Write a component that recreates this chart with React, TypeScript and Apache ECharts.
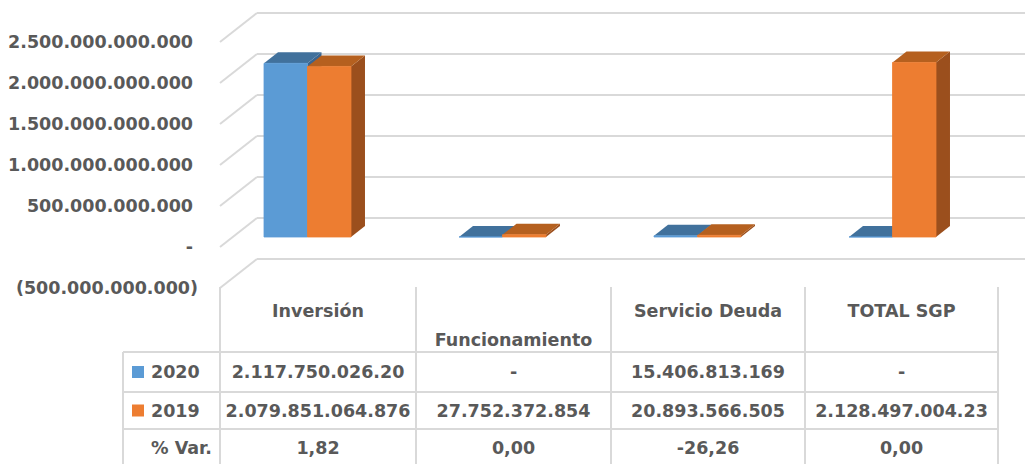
import React, { useEffect, useRef } from "react";
import * as echarts from "echarts";

// ---------- data ----------
const categories = ["Inversión", "Funcionamiento", "Servicio Deuda", "TOTAL SGP"];
const seriesNames = ["2020", "2019"];
const values2020 = [2117750026200, 0, 15406813169, 0];
const values2019 = [2079851064876, 27752372854, 20893566505, 2128497004230];
const tableRow2020 = ["2.117.750.026.20", "-", "15.406.813.169", "-"];
const tableRow2019 = ["2.079.851.064.876", "27.752.372.854", "20.893.566.505", "2.128.497.004.23"];
const varLabel = "% Var.";
const tableRowVar = ["1,82", "0,00", "-26,26", "0,00"];
const yTicks = [-500000000000, 0, 500000000000, 1000000000000, 1500000000000, 2000000000000, 2500000000000];

// ---------- style / layout ----------
const W = 1025;
const H = 464;
const TEXT = "#595959";
const GRID_LINE = "#d9d9d9";
const FONT = "DejaVu Sans";
const FONT_SIZE = 17.5;
const COLORS = [
  { front: "#5B9BD5", top: "#41719C", side: "#3A6590" },
  { front: "#ED7D31", top: "#B5601F", side: "#9B4F1D" },
];
const DEPTH_X = 37;
const DEPTH_Y = 29;
const BAR_DX = 14;
const BAR_DY = -11;
const BAR_FRAC = 0.223;

const Y_MIN = yTicks[0];
const Y_MAX = yTicks[yTicks.length - 1];
const Y_STEP = yTicks[1] - yTicks[0];

function fmtAxis(v: number): string {
  if (v === 0) return "{p|-}";
  const s = String(Math.abs(Math.round(v))).replace(/\B(?=(\d{3})+(?!\d))/g, ".");
  return v < 0 ? "{n|(" + s + ")}" : "{p|" + s + "}";
}

function makeBarSeries(idx: number, values: number[]) {
  const col = COLORS[idx];
  return {
    type: "custom",
    name: seriesNames[idx],
    xAxisIndex: 1,
    yAxisIndex: 1,
    clip: false,
    z: 3 + idx,
    data: values.map((v, i) => [i, v]),
    renderItem: (params: any, api: any) => {
      const ci = api.value(0);
      const top = api.coord([ci, api.value(1)]);
      const base = api.coord([ci, 0]);
      const band = api.size([1, 0])[0];
      const w = band * BAR_FRAC;
      const x0 = idx === 0 ? top[0] - w : top[0];
      const x1 = x0 + w;
      const yt = top[1];
      const yb = base[1];
      return {
        type: "group",
        children: [
          {
            type: "polygon",
            shape: { points: [[x1, yt], [x1 + BAR_DX, yt + BAR_DY], [x1 + BAR_DX, yb + BAR_DY], [x1, yb]] },
            style: { fill: col.side },
          },
          {
            type: "polygon",
            shape: { points: [[x0, yt], [x1, yt], [x1 + BAR_DX, yt + BAR_DY], [x0 + BAR_DX, yt + BAR_DY]] },
            style: { fill: col.top },
          },
          {
            type: "polygon",
            shape: { points: [[x0, yt], [x1, yt], [x1, yb], [x0, yb]] },
            style: { fill: col.front, stroke: col.front, lineWidth: 0.8 },
          },
        ],
      };
    },
  };
}

function buildTable(): any[] {
  const els: any[] = [];
  const colX = [220, 416, 611, 805, 998];
  const lineTop = 287;
  const rowY = [352, 392, 429];
  const legendLeft = 123;
  const lineStyle = { stroke: GRID_LINE, lineWidth: 2 };
  colX.forEach((x) => {
    els.push({ type: "line", shape: { x1: x, y1: lineTop, x2: x, y2: H + 5 }, style: lineStyle });
  });
  rowY.forEach((y) => {
    els.push({ type: "line", shape: { x1: legendLeft, y1: y, x2: colX[colX.length - 1], y2: y }, style: lineStyle });
  });
  els.push({ type: "line", shape: { x1: legendLeft, y1: rowY[0], x2: legendLeft, y2: H + 5 }, style: lineStyle });

  const txt = (text: string, x: number, y: number, align: string) => ({
    type: "text",
    x,
    y,
    style: {
      text,
      fill: TEXT,
      fontSize: FONT_SIZE,
      fontWeight: "bold",
      fontFamily: FONT,
      textAlign: align,
      textVerticalAlign: "middle",
      align,
      verticalAlign: "middle",
    },
  });
  const headerY = [311, 340, 311, 311];
  const rowCenters = [372, 410.5, 448];
  categories.forEach((c, i) => {
    const cx = (colX[i] + colX[i + 1]) / 2;
    els.push(txt(c, cx, headerY[i], "center"));
    els.push(txt(tableRow2020[i], cx, rowCenters[0], "center"));
    els.push(txt(tableRow2019[i], cx, rowCenters[1], "center"));
    els.push(txt(tableRowVar[i], cx, rowCenters[2], "center"));
  });
  // legend keys
  els.push({ type: "rect", shape: { x: 132, y: rowCenters[0] - 6, width: 12, height: 12 }, style: { fill: COLORS[0].front } });
  els.push({ type: "rect", shape: { x: 132, y: rowCenters[1] - 6, width: 12, height: 12 }, style: { fill: COLORS[1].front } });
  els.push(txt(seriesNames[0], 151, rowCenters[0], "left"));
  els.push(txt(seriesNames[1], 151, rowCenters[1], "left"));
  els.push(txt(varLabel, 151, rowCenters[2], "left"));
  return els;
}

export default function App() {
  const ref = useRef<HTMLDivElement>(null);
  useEffect(() => {
    document.body.style.margin = "0";
    if (!ref.current) return;
    const chart = echarts.init(ref.current, undefined, { renderer: "svg" });
    const yAxisBase = {
      type: "value",
      min: Y_MIN,
      max: Y_MAX,
      interval: Y_STEP,
      axisLine: { show: false },
      axisTick: { show: false },
    };
    const labelStyle = { fontSize: FONT_SIZE, fontWeight: "bold", fontFamily: FONT, color: TEXT };
    chart.setOption({
      animation: false,
      backgroundColor: "#ffffff",
      grid: [
        // back wall
        { left: 257, right: 0, top: 13, height: 246 },
        // bars (mid depth)
        { left: 210, width: 780, top: 32, height: 246 },
        // front edge / labels
        { left: 220, width: DEPTH_X, top: 13 + DEPTH_Y, height: 246 },
      ],
      xAxis: [
        { type: "category", gridIndex: 0, data: categories, show: false },
        { type: "category", gridIndex: 1, data: categories, show: false },
        { type: "category", gridIndex: 2, data: ["edge"], show: false },
      ],
      yAxis: [
        {
          ...yAxisBase,
          gridIndex: 0,
          axisLabel: { show: false },
          splitLine: { show: true, lineStyle: { color: GRID_LINE, width: 2 } },
        },
        { ...yAxisBase, gridIndex: 1, show: false, splitLine: { show: false } },
        {
          ...yAxisBase,
          gridIndex: 2,
          splitLine: { show: false },
          axisLabel: {
            show: true,
            margin: 22,
            ...labelStyle,
            formatter: fmtAxis,
            rich: {
              p: { ...labelStyle, padding: [0, 5, 0, 0] },
              n: { ...labelStyle },
            },
          },
        },
      ],
      series: [
        {
          type: "custom",
          name: "edges",
          xAxisIndex: 2,
          yAxisIndex: 2,
          clip: false,
          z: 1,
          silent: true,
          data: yTicks.map((v) => [0, v]),
          renderItem: (params: any, api: any) => {
            const y = api.coord([0, api.value(1)])[1];
            const x = params.coordSys.x;
            return {
              type: "line",
              shape: { x1: x, y1: y, x2: x + DEPTH_X, y2: y - DEPTH_Y },
              style: { stroke: GRID_LINE, lineWidth: 2 },
            };
          },
        },
        makeBarSeries(0, values2020),
        makeBarSeries(1, values2019),
      ],
      graphic: buildTable(),
    });
    return () => chart.dispose();
  }, []);
  return <div ref={ref} style={{ width: W, height: H }} />;
}
